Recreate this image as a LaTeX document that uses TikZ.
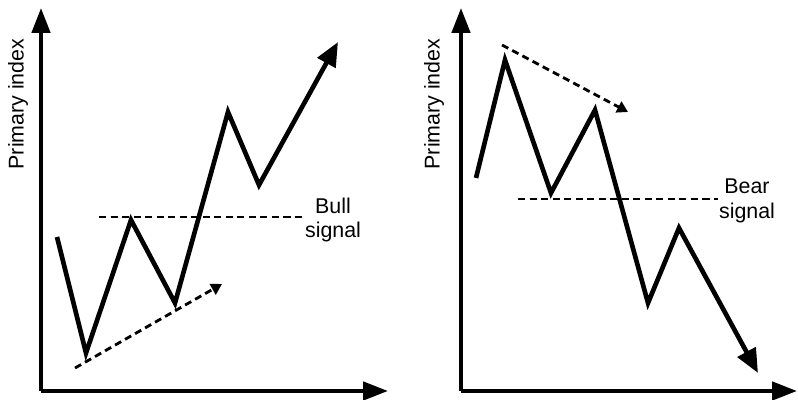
\documentclass[tikz,border=0pt]{standalone}
\usepackage{fontspec}
\setmainfont{Liberation Sans}
\usepackage{tikz}
\usetikzlibrary{arrows.meta}

\begin{document}
\begin{tikzpicture}[x=0.025cm, y=0.025cm,
    axisline/.style={line width=3pt, -{Triangle[length=0.62cm, width=0.45cm]}},
    priceline/.style={line width=3.3pt, -{Triangle[length=0.6cm, width=0.5cm]}},
    trendline/.style={line width=2pt, dash pattern=on 5pt off 3.2pt, -{Triangle[length=0.27cm, width=0.3cm]}},
    signalline/.style={line width=2pt, dash pattern=on 5pt off 3.2pt},
    lab/.style={font=\fontsize{15.2}{17.7}\selectfont, inner sep=0pt, align=center}]

\useasboundingbox (0, 0) rectangle (798, 400);

% Left panel: bull market
\draw[axisline] (41, 9) -- (41, 392);
\draw[axisline] (41, 9) -- (388, 9);
\node[lab, rotate=90] (ylabA) at (18, 296) {Primary index};

% Signal level
\draw[signalline] (99, 183) -- (302, 183);
\node[lab] (bullsig) at (333, 180) {Bull\\signal};

% Rising lows
\draw[trendline] (75, 32) -- (222, 116);

% Price path
\draw[priceline, line join=miter]
    (57, 163) -- (86, 47) -- (131, 180) -- (175, 97) -- (228, 288) -- (259, 215) -- (338, 358);

% Right panel: bear market
\draw[axisline] (461, 9) -- (461, 392);
\draw[axisline] (461, 9) -- (797, 9);
\node[lab, rotate=90] (ylabB) at (434, 296) {Primary index};

% Signal level
\draw[signalline] (518, 201) -- (718, 201);
\node[lab] (bearsig) at (747, 199) {Bear\\signal};

% Falling highs
\draw[trendline] (502, 355) -- (628, 288);

% Price path
\draw[priceline, line join=miter]
    (476, 222) -- (505, 340) -- (551, 207) -- (595, 290) -- (648, 97) -- (679, 172) -- (758, 27);

\end{tikzpicture}
\end{document}
